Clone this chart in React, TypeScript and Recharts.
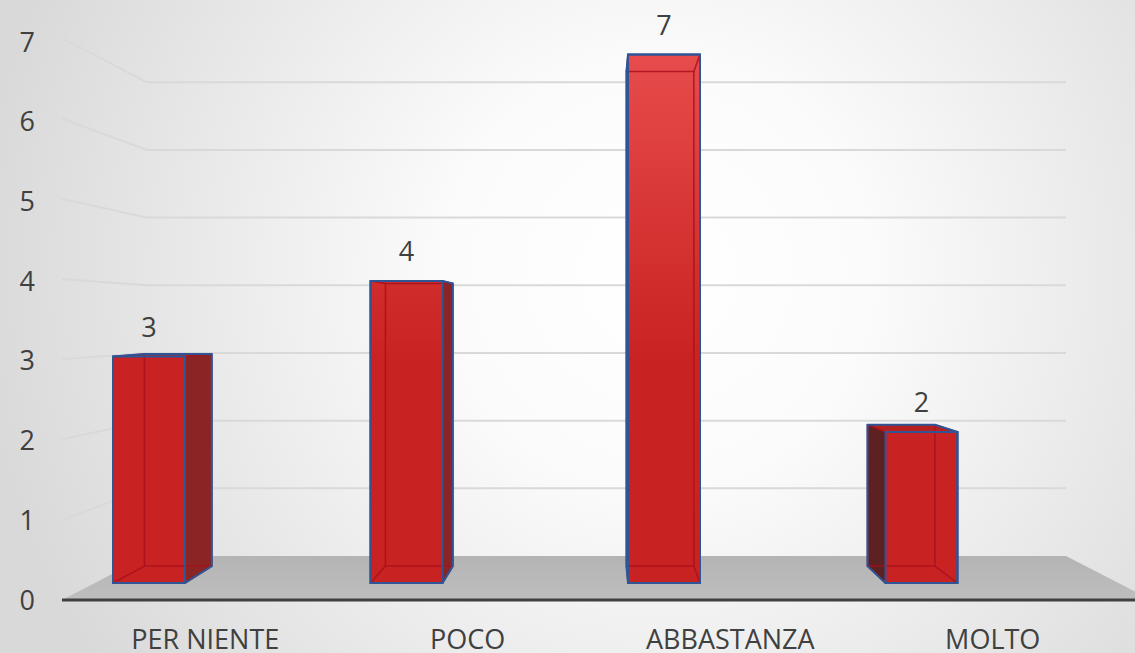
import { ComposedChart, Bar, XAxis, YAxis, CartesianGrid, LabelList } from "recharts";

const categories = ["PER NIENTE", "POCO", "ABBASTANZA", "MOLTO"];
const counts = [3, 4, 7, 2];
const yTicks = [0, 1, 2, 3, 4, 5, 6, 7];

const data = categories.map((name, i) => ({ name, value: counts[i] }));

// fake perspective: vanishing point + depth factors
const VP = { x: 604, y: 319 };
const FRONT = 1.186; // back wall -> front edge of the floor
const DEPTH = 0.936; // bar front face -> bar back face

const TEXT = "#404040";
const BLUE = "#2f5597";
const INNER = "#a8101c";

type Pt = [number, number];

const project = (x: number, y: number, k: number): Pt => [
  VP.x + (x - VP.x) * k,
  VP.y + (y - VP.y) * k,
];

const pts = (arr: Pt[]) => arr.map((p) => p.join(",")).join(" ");

function hull(points: Pt[]): Pt[] {
  const p = [...points].sort((a, b) => a[0] - b[0] || a[1] - b[1]);
  const cross = (o: Pt, a: Pt, b: Pt) =>
    (a[0] - o[0]) * (b[1] - o[1]) - (a[1] - o[1]) * (b[0] - o[0]);
  const lower: Pt[] = [];
  for (const q of p) {
    while (lower.length >= 2 && cross(lower[lower.length - 2], lower[lower.length - 1], q) <= 0) lower.pop();
    lower.push(q);
  }
  const upper: Pt[] = [];
  for (let i = p.length - 1; i >= 0; i--) {
    const q = p[i];
    while (upper.length >= 2 && cross(upper[upper.length - 2], upper[upper.length - 1], q) <= 0) upper.pop();
    upper.push(q);
  }
  return lower.slice(0, -1).concat(upper.slice(0, -1));
}

// back wall gridlines with the slanted part on the left wall; value 0 is the floor
function WallLine(props: any) {
  const { x1, x2, y1, index } = props;
  const [fx, fy] = project(x1, y1, FRONT);
  if (index === 0) {
    const [rx, ry] = project(x2, y1, FRONT);
    return (
      <g key={`wall-${index}`}>
        <polygon points={pts([[x1, y1], [x2, y1], [rx, ry], [fx, fy]])} fill="url(#floorGrad)" />
        <line x1={fx} y1={fy} x2={rx} y2={ry} stroke={TEXT} strokeWidth={3} />
      </g>
    );
  }
  return (
    <polyline
      key={`wall-${index}`}
      points={pts([[fx, fy], [x1, y1], [x2, y1]])}
      fill="none"
      stroke="#d9d9d9"
      strokeWidth={2}
    />
  );
}

function Box3D(props: any) {
  const { x, y, width, height } = props;
  if (!height) return null;
  const f: Pt[] = [
    [x, y],
    [x + width, y],
    [x + width, y + height],
    [x, y + height],
  ];
  const b = f.map(([px, py]) => project(px, py, DEPTH));
  const sides: JSX.Element[] = [];
  if (VP.y < y) sides.push(<polygon key="top" points={pts([f[0], f[1], b[1], b[0]])} fill="#b52020" />);
  if (VP.x > x + width) sides.push(<polygon key="right" points={pts([f[1], f[2], b[2], b[1]])} fill="#8b2424" />);
  if (VP.x < x) sides.push(<polygon key="left" points={pts([f[0], f[3], b[3], b[0]])} fill="#5e2121" />);
  return (
    <g>
      <polygon points={pts(b)} fill="#8c1b1b" />
      {sides}
      <polygon points={pts(f)} fill="url(#frontGrad)" />
      <g stroke={INNER} strokeWidth={1.5} fill="none" opacity={0.85}>
        <polygon points={pts(b)} />
        {f.map((p, i) => (
          <line key={i} x1={p[0]} y1={p[1]} x2={b[i][0]} y2={b[i][1]} />
        ))}
      </g>
      <polygon points={pts(hull([...f, ...b]))} fill="none" stroke={BLUE} strokeWidth={2} strokeLinejoin="round" />
      <polygon points={pts(f)} fill="none" stroke={BLUE} strokeWidth={2} />
    </g>
  );
}

export default function App() {
  return (
    <div
      style={{
        position: "absolute",
        left: 0,
        top: 0,
        width: 1135,
        height: 653,
        fontFamily: "'Open Sans', sans-serif",
        background:
          "radial-gradient(circle at 58% 42%, #ffffff 0%, #fbfbfb 28%, #d9d9d9 90%)",
      }}
    >
      <ComposedChart width={1135} height={653} data={data} margin={{ top: 42, right: 69, bottom: 0, left: 0 }}>
        <defs>
          <linearGradient id="frontGrad" gradientUnits="userSpaceOnUse" x1="0" y1="50" x2="0" y2="360">
            <stop offset="0%" stopColor="#e84c4c" />
            <stop offset="100%" stopColor="#c92222" />
          </linearGradient>
          <linearGradient id="floorGrad" x1="0" y1="0" x2="0" y2="1">
            <stop offset="0%" stopColor="#b4b4b4" />
            <stop offset="100%" stopColor="#bebebe" />
          </linearGradient>
        </defs>
        <XAxis
          xAxisId="labels"
          dataKey="name"
          height={53}
          padding={{ left: -73, right: -58 }}
          axisLine={false}
          tickLine={false}
          tickSize={0}
          tickMargin={30}
          interval={0}
          tick={{ fill: TEXT, fontSize: 27 }}
        />
        <XAxis xAxisId="bars" dataKey="name" hide height={0} padding={{ left: -127, right: 16 }} />
        <YAxis
          yAxisId="labels"
          width={147}
          domain={[0, 7]}
          ticks={yTicks}
          interval={0}
          allowDataOverflow
          axisLine={false}
          tickLine={false}
          tickSize={0}
          tickMargin={112}
          tick={{ fill: TEXT, fontSize: 27 }}
        />
        <YAxis yAxisId="wall" hide width={0} domain={[-0.65, 7.595]} ticks={yTicks} interval={0} allowDataOverflow />
        <YAxis yAxisId="bars" hide width={0} domain={[-0.225, 7.166]} />
        <CartesianGrid
          yAxisId="wall"
          xAxisId="labels"
          vertical={false}
          syncWithTicks
          horizontal={WallLine}
        />
        <Bar
          dataKey="value"
          xAxisId="bars"
          yAxisId="bars"
          barSize={72}
          shape={Box3D}
          isAnimationActive={false}
        >
          <LabelList dataKey="value" position="top" offset={20} style={{ fill: TEXT, fontSize: 27 }} />
        </Bar>
      </ComposedChart>
    </div>
  );
}
